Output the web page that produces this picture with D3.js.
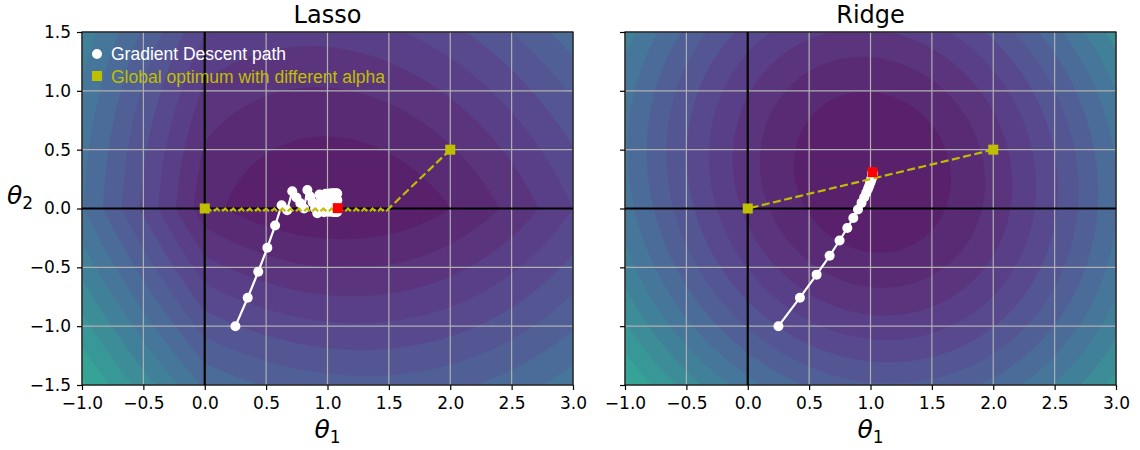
<!DOCTYPE html>
<html>
<head>
<meta charset="utf-8">
<script src="https://cdn.jsdelivr.net/npm/d3@7"></script>
<style>
body { margin: 0; background: #fff; }
</style>
</head>
<body>
<svg width="1140" height="450" font-family="DejaVu Sans, sans-serif"></svg>
<script>
// axis ranges and ticks
var t1Range = [-1, 3];
var t2Range = [-1.5, 1.5];
var xTicks = [-1, -0.5, 0, 0.5, 1, 1.5, 2, 2.5, 3];
var yTicks = [-1.5, -1, -0.5, 0, 0.5, 1, 1.5];

// small training set behind the cost surface
var Xr = [[1, 1], [1, -1], [1, 0.5]];
var yr = [2.5, 1.5, 2.25];

// contour levels as fraction of (max - min) above the minimum
var levelFrac = [0, 0.054, 0.111, 0.171, 0.234, 0.301, 0.371, 0.445, 0.524, 0.606,
  0.693, 0.784, 0.881, 0.982, 1.089, 1.202, 1.321, 1.447, 1.579, 1.718];

// gradient descent paths (theta1, theta2)
var lassoPath = [[0.25, -1], [0.35, -0.758], [0.436, -0.537], [0.510, -0.333], [0.573, -0.145],
  [0.626, 0.027], [0.671, -0.015], [0.713, 0.146], [0.747, 0.094], [0.779, 0.045],
  [0.809, 0.000], [0.836, 0.157], [0.859, 0.102], [0.879, 0.051], [0.899, 0.003],
  [0.917, -0.041], [0.935, 0.118], [0.948, 0.064], [0.960, 0.014], [0.972, -0.032],
  [0.984, 0.125], [0.992, 0.070], [1.000, 0.019], [1.008, -0.028], [1.016, 0.128],
  [1.020, 0.072], [1.025, 0.021], [1.031, -0.027], [1.037, 0.129], [1.039, 0.073],
  [1.042, 0.021], [1.046, -0.027], [1.050, 0.128], [1.052, 0.072], [1.054, 0.020],
  [1.056, -0.029], [1.059, 0.127], [1.061, 0.071], [1.064, 0.019], [1.066, -0.029],
  [1.069, 0.127], [1.070, 0.071], [1.072, 0.019], [1.073, -0.029], [1.075, 0.127],
  [1.076, 0.071], [1.077, 0.019], [1.078, -0.029], [1.079, 0.127], [1.080, 0.071]];

var ridgePath = [[0.25, -1], [0.425, -0.758], [0.561, -0.562], [0.667, -0.402], [0.748, -0.272],
  [0.811, -0.166], [0.860, -0.080], [0.898, -0.009], [0.927, 0.048], [0.949, 0.095],
  [0.966, 0.134], [0.979, 0.165], [0.989, 0.191], [0.996, 0.212], [1.002, 0.229],
  [1.006, 0.243], [1.009, 0.255], [1.011, 0.264], [1.013, 0.272], [1.014, 0.278],
  [1.015, 0.283], [1.016, 0.288], [1.016, 0.291], [1.016, 0.294], [1.016, 0.297],
  [1.016, 0.299], [1.016, 0.301], [1.016, 0.303]];

// path of the optimum as alpha changes
var lassoPathN = [[2, 0.5],
  [1.500, 0], [1.483, -0.017], [1.467, 0], [1.450, -0.017], [1.433, 0], [1.417, -0.017], [1.400, 0], [1.383, -0.017], [1.367, 0], [1.350, -0.017],
  [1.333, 0], [1.317, -0.017], [1.300, 0], [1.283, -0.017], [1.267, 0], [1.250, -0.017], [1.233, 0], [1.217, -0.017], [1.200, 0], [1.183, -0.017],
  [1.167, 0], [1.150, -0.017], [1.133, 0], [1.117, -0.017], [1.100, 0], [1.083, -0.017], [1.067, 0], [1.050, -0.017], [1.033, 0], [1.017, -0.017],
  [1.000, 0], [0.983, -0.017], [0.967, 0], [0.950, -0.017], [0.933, 0], [0.917, -0.017], [0.900, 0], [0.883, -0.017], [0.867, 0], [0.850, -0.017],
  [0.833, 0], [0.817, -0.017], [0.800, 0], [0.783, -0.017], [0.767, 0], [0.750, -0.017], [0.733, 0], [0.717, -0.017], [0.700, 0], [0.683, -0.017],
  [0.667, 0], [0.650, -0.017], [0.633, 0], [0.617, -0.017], [0.600, 0], [0.583, -0.017], [0.567, 0], [0.550, -0.017], [0.533, 0], [0.517, -0.017],
  [0.500, 0], [0.483, -0.017], [0.467, 0], [0.450, -0.017], [0.433, 0], [0.417, -0.017], [0.400, 0], [0.383, -0.017], [0.367, 0], [0.350, -0.017],
  [0.333, 0], [0.317, -0.017], [0.300, 0], [0.283, -0.017], [0.267, 0], [0.250, -0.017], [0.233, 0], [0.217, -0.017], [0.200, 0], [0.183, -0.017],
  [0.167, 0], [0.150, -0.017], [0.133, 0], [0.117, -0.017], [0.100, 0], [0.083, -0.017], [0.067, 0], [0.050, -0.017], [0.033, 0], [0.017, -0.017],
  [0.000, 0]];
var ridgePathN = [[2, 0.5], [0, 0]];

var globalOpt = [[0, 0], [2, 0.5]];
var lassoMin = [1.084, 0.003];
var ridgeMin = [1.016, 0.308];

var svg = d3.select('svg');
var plotTop = 32, plotH = 353, plotW = 491;
var yellow = '#bfbf00';
var legendFont = '"Liberation Sans", Arial, sans-serif';

var y = d3.scaleLinear().domain(t2Range).range([plotTop + plotH, plotTop]);

var panels = [
  {title: 'Lasso', left: 82, l1: 2, l2: 0, path: lassoPath, pathN: lassoPathN, rmin: lassoMin, yLabels: true, legend: true},
  {title: 'Ridge', left: 625, l1: 0, l2: 2, path: ridgePath, pathN: ridgePathN, rmin: ridgeMin, yLabels: false, legend: false}
];

function cost(a, b) {
  var s = 0;
  Xr.forEach(function(r, k) {
    var e = r[0] * a + r[1] * b - yr[k];
    s += e * e;
  });
  return s / Xr.length;
}

var n = 400;
var dx = (t1Range[1] - t1Range[0]) / (n - 1);
var dy = (t2Range[1] - t2Range[0]) / (n - 1);

panels.forEach(function(p, pi) {
  var x = d3.scaleLinear().domain(t1Range).range([p.left, p.left + plotW]);
  var g = svg.append('g');

  g.append('clipPath').attr('id', 'clip' + pi)
    .append('rect')
    .attr('x', p.left).attr('y', plotTop)
    .attr('width', plotW).attr('height', plotH);

  // regularized cost surface
  var values = new Array(n * n);
  for (var j = 0; j < n; j++) {
    for (var i = 0; i < n; i++) {
      var a = t1Range[0] + i * dx, b = t2Range[0] + j * dy;
      values[j * n + i] = cost(a, b) + p.l1 * (Math.abs(a) + Math.abs(b)) + p.l2 * 0.5 * (a * a + b * b);
    }
  }
  var vmin = d3.min(values), vmax = d3.max(values);
  var levels = levelFrac.map(function(f) { return vmin + f * (vmax - vmin); });
  var last = levelFrac[levelFrac.length - 1];

  var proj = d3.geoTransform({
    point: function(gx, gy) {
      this.stream.point(x(t1Range[0] + (gx - 0.5) * dx), y(t2Range[0] + (gy - 0.5) * dy));
    }
  });
  var geo = d3.geoPath(proj);

  var contours = d3.contours().size([n, n]).thresholds(levels)(values);
  g.append('g').attr('clip-path', 'url(#clip' + pi + ')')
    .selectAll('path')
    .data(contours.slice(0, levels.length - 1))
    .enter()
    .append('path')
    .attr('d', geo)
    .attr('fill', function(d, k) {
      var t = (levelFrac[k] + levelFrac[k + 1]) / 2 / last;
      var c = d3.rgb(d3.interpolateViridis(t));
      return d3.rgb(c.r * 0.9 + 25.5, c.g * 0.9 + 25.5, c.b * 0.9 + 25.5).toString();
    });

  // grid
  g.selectAll('.vgrid').data(xTicks).enter().append('line')
    .attr('x1', function(d) { return x(d); }).attr('x2', function(d) { return x(d); })
    .attr('y1', plotTop).attr('y2', plotTop + plotH)
    .attr('stroke', '#b0b0b0').attr('stroke-width', 1.2);
  g.selectAll('.hgrid').data(yTicks).enter().append('line')
    .attr('y1', function(d) { return y(d); }).attr('y2', function(d) { return y(d); })
    .attr('x1', p.left).attr('x2', p.left + plotW)
    .attr('stroke', '#b0b0b0').attr('stroke-width', 1.2);

  // axhline / axvline
  g.append('line').attr('x1', p.left).attr('x2', p.left + plotW)
    .attr('y1', y(0)).attr('y2', y(0))
    .attr('stroke', '#000').attr('stroke-width', 2.2);
  g.append('line').attr('x1', x(0)).attr('x2', x(0))
    .attr('y1', plotTop).attr('y2', plotTop + plotH)
    .attr('stroke', '#000').attr('stroke-width', 2.2);

  var line = d3.line().x(function(d) { return x(d[0]); }).y(function(d) { return y(d[1]); });

  // gradient descent path
  g.append('path').attr('d', line(p.path))
    .attr('fill', 'none').attr('stroke', '#fff').attr('stroke-width', 2.2);
  g.selectAll('.gd').data(p.path).enter().append('circle')
    .attr('cx', function(d) { return x(d[0]); })
    .attr('cy', function(d) { return y(d[1]); })
    .attr('r', 5).attr('fill', '#fff');

  // optimum path
  g.append('path').attr('d', line(p.pathN))
    .attr('fill', 'none').attr('stroke', yellow).attr('stroke-width', 2.2)
    .attr('stroke-dasharray', '8,3.5');

  g.selectAll('.opt').data(globalOpt).enter().append('rect')
    .attr('x', function(d) { return x(d[0]) - 5; })
    .attr('y', function(d) { return y(d[1]) - 5; })
    .attr('width', 10).attr('height', 10).attr('fill', yellow);
  g.append('rect')
    .attr('x', x(p.rmin[0]) - 5).attr('y', y(p.rmin[1]) - 5)
    .attr('width', 10).attr('height', 10).attr('fill', '#ff0000');

  // spines
  g.append('rect').attr('x', p.left).attr('y', plotTop)
    .attr('width', plotW).attr('height', plotH)
    .attr('fill', 'none').attr('stroke', '#000').attr('stroke-width', 1.2);

  // axes
  var ax = g.append('g').attr('transform', 'translate(0,' + (plotTop + plotH) + ')')
    .call(d3.axisBottom(x).tickValues(xTicks).tickFormat(d3.format('.1f')).tickSize(5).tickPadding(6.5));
  var ay = g.append('g').attr('transform', 'translate(' + p.left + ',0)')
    .call(d3.axisLeft(y).tickValues(yTicks).tickFormat(p.yLabels ? d3.format('.1f') : '').tickSize(5).tickPadding(6));
  [ax, ay].forEach(function(a) {
    a.select('.domain').remove();
    a.selectAll('line').attr('stroke-width', 1.2);
    a.attr('font-family', 'DejaVu Sans, sans-serif').attr('font-size', 17);
    a.selectAll('text').attr('fill', '#000');
  });

  g.append('text')
    .attr('x', p.left + plotW / 2).attr('y', 23)
    .attr('text-anchor', 'middle').attr('font-size', 24)
    .text(p.title);

  var xl = g.append('text')
    .attr('x', p.left + plotW / 2).attr('y', 438)
    .attr('text-anchor', 'middle').attr('font-size', 25);
  xl.append('tspan').attr('font-style', 'italic').text('θ');
  xl.append('tspan').attr('font-size', 17).attr('dy', 5).text('1');

  if (p.legend) {
    var yl = g.append('text').attr('x', 7).attr('y', 204).attr('font-size', 25);
    yl.append('tspan').attr('font-style', 'italic').text('θ');
    yl.append('tspan').attr('font-size', 17).attr('dy', 5).text('2');

    var lg = g.append('g');
    lg.append('circle').attr('cx', 97).attr('cy', 54).attr('r', 5).attr('fill', '#fff');
    lg.append('text').attr('x', 111).attr('y', 60)
      .style('font-family', legendFont).style('font-size', '17.5px')
      .attr('fill', '#fff').text('Gradient Descent path');
    lg.append('rect').attr('x', 92).attr('y', 71).attr('width', 10).attr('height', 10).attr('fill', yellow);
    lg.append('text').attr('x', 111).attr('y', 83)
      .style('font-family', legendFont).style('font-size', '17.5px')
      .attr('fill', yellow).text('Global optimum with different alpha');
  }
});
</script>
</body>
</html>
